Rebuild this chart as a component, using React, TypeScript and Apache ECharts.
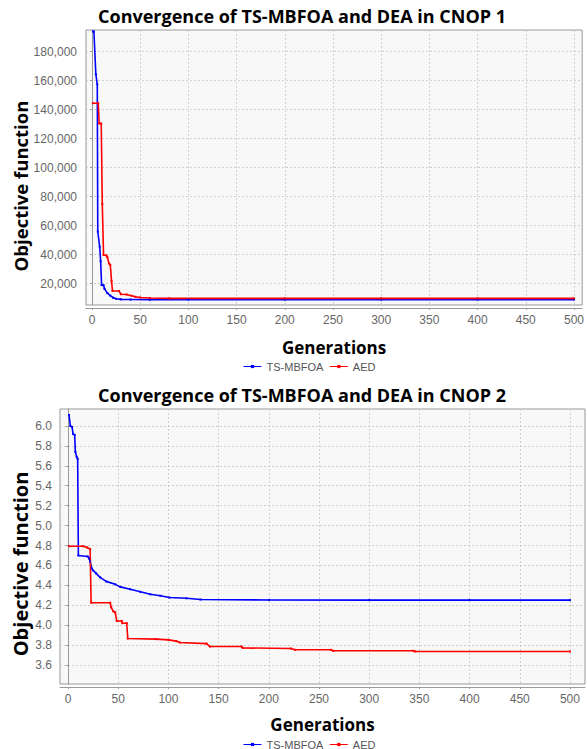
import React, { useEffect, useRef } from "react";
import * as echarts from "echarts";

// ---- Chart 1 (CNOP 1) ----
const title1 = "Convergence of TS-MBFOA and DEA in CNOP 1";
const ts1Gen = [1, 2, 4, 5.5, 6, 8, 9, 10, 12, 13, 16, 19, 22, 25, 30, 40, 60, 100, 200, 300, 400, 500];
const ts1Val = [194000, 194000, 164500, 157500, 56000, 45500, 35500, 19000, 19000, 16500, 13500, 11800, 10300, 9600, 9200, 9050, 9000, 9000, 9000, 9000, 9000, 9000];
const aed1Gen = [1, 6.5, 7.5, 9.6, 10.7, 12, 15, 16, 17.6, 19, 20.3, 21.3, 28, 30, 36, 41, 45, 50, 60, 80, 200, 300, 400, 500];
const aed1Val = [144500, 144500, 130500, 130500, 75000, 39800, 39500, 38200, 34000, 33000, 21800, 15000, 15000, 12700, 12500, 11700, 11000, 10500, 10100, 9900, 9900, 9900, 9900, 9900];
const x1Ticks = [0, 50, 100, 150, 200, 250, 300, 350, 400, 450, 500];
const y1Ticks = [20000, 40000, 60000, 80000, 100000, 120000, 140000, 160000, 180000];

// ---- Chart 2 (CNOP 2) ----
const title2 = "Convergence of TS-MBFOA and DEA in CNOP 2";
const ts2Gen = [1, 2.3, 4, 5, 6.6, 7.3, 8.6, 9.6, 10.3, 19.6, 21, 22, 23.6, 25, 28, 32, 38, 47, 52, 62, 72, 82, 92, 101, 118, 132, 200, 300, 400, 500];
const ts2Val = [6.11, 6.0, 5.99, 5.92, 5.91, 5.74, 5.69, 5.67, 4.7, 4.69, 4.67, 4.64, 4.57, 4.55, 4.52, 4.48, 4.44, 4.41, 4.385, 4.36, 4.335, 4.31, 4.296, 4.278, 4.27, 4.258, 4.253, 4.252, 4.252, 4.252];
const aed2Gen = [1, 15, 19, 22, 23, 42, 43, 45, 47, 48.5, 53.5, 54, 58.5, 59.5, 88, 100, 108, 111.5, 138, 141.4, 173, 174, 222, 226, 262, 264, 344, 346, 500];
const aed2Val = [4.793, 4.793, 4.78, 4.765, 4.226, 4.226, 4.18, 4.14, 4.13, 4.043, 4.043, 4.02, 4.02, 3.866, 3.86, 3.853, 3.84, 3.826, 3.815, 3.786, 3.786, 3.772, 3.766, 3.753, 3.753, 3.743, 3.743, 3.736, 3.736];
const x2Ticks = [0, 50, 100, 150, 200, 250, 300, 350, 400, 450, 500];
const y2Ticks = [3.6, 3.8, 4.0, 4.2, 4.4, 4.6, 4.8, 5.0, 5.2, 5.4, 5.6, 5.8, 6.0];

const seriesNames = ["TS-MBFOA", "AED"];
const axisNameX = "Generations";
const axisNameY = "Objective function";

const BLUE = "#0000ff";
const RED = "#ff0000";
const LABEL_FONT = "Liberation Sans";
const BOLD_FONT = "Open Sans";

function zip(a: number[], b: number[]) {
  return a.map((v, i) => [v, b[i]]);
}

export default function App() {
  const ref = useRef<HTMLDivElement>(null);
  useEffect(() => {
    if (!ref.current) return;
    const chart = echarts.init(ref.current, null, { renderer: "svg" });

    const xAxisBase = (ticks: number[], min: number, max: number, gridIndex: number, gap: number) => ({
      type: "value",
      gridIndex,
      min,
      max,
      offset: 3,
      name: axisNameX,
      nameLocation: "middle",
      nameGap: gap,
      nameTextStyle: { fontFamily: BOLD_FONT, fontWeight: "bold", fontSize: 17, color: "#000" },
      axisLine: { show: true, onZero: false, lineStyle: { color: "#999", width: 1 } },
      axisTick: { show: true, length: 2, customValues: ticks, lineStyle: { color: "#999" } },
      axisLabel: { customValues: ticks, color: "#666", fontSize: 12, fontFamily: LABEL_FONT, margin: 6 },
      splitLine: { show: true, lineStyle: { color: "#cfcfcf", type: [2, 2], width: 1 } },
    });

    const yAxisBase = (ticks: number[], min: number, max: number, gridIndex: number, offset: number, fmt: (v: number) => string) => ({
      type: "value",
      gridIndex,
      min,
      max,
      offset,
      axisLine: { show: true, lineStyle: { color: "#999", width: 1 } },
      axisTick: { show: true, length: 2, customValues: ticks, lineStyle: { color: "#999" } },
      axisLabel: { customValues: ticks, color: "#666", fontSize: 12, fontFamily: LABEL_FONT, margin: 5, formatter: fmt },
      splitLine: { show: true, lineStyle: { color: "#cfcfcf", type: [2, 2], width: 1 } },
    });

    const lineSeries = (name: string, color: string, data: number[][], idx: number) => ({
      type: "line",
      name,
      xAxisIndex: idx,
      yAxisIndex: idx,
      data,
      symbol: "rect",
      symbolSize: 2,
      showSymbol: true,
      lineStyle: { color, width: 1.6 },
      itemStyle: { color },
      emphasis: { disabled: true },
    });

    const gridStyle = { show: true, backgroundColor: "#f8f8f8", borderColor: "#999", borderWidth: 1 };
    const legendBase = {
      data: seriesNames,
      left: 238,
      itemWidth: 18,
      itemHeight: 4,
      itemGap: 6,
      lineStyle: { width: 1 },
      textStyle: { fontFamily: LABEL_FONT, fontSize: 11, color: "#555" },
      selectedMode: false,
    };

    chart.setOption({
      animation: false,
      title: [
        { text: title1, left: 297, top: 2, textAlign: "center", textStyle: { fontFamily: BOLD_FONT, fontWeight: "bold", fontSize: 18, color: "#000" } },
        { text: title2, left: 297, top: 381, textAlign: "center", textStyle: { fontFamily: BOLD_FONT, fontWeight: "bold", fontSize: 18, color: "#000" } },
      ],
      legend: [
        { ...legendBase, top: 356 },
        { ...legendBase, top: 734 },
      ],
      graphic: [
        {
          type: "text",
          x: 20,
          y: 186,
          rotation: Math.PI / 2,
          style: { text: axisNameY, align: "center", verticalAlign: "middle", fontFamily: BOLD_FONT, fontWeight: "bold", fontSize: 18.5, fill: "#000" },
        },
        {
          type: "text",
          x: 20,
          y: 564,
          rotation: Math.PI / 2,
          style: { text: axisNameY, align: "center", verticalAlign: "middle", fontFamily: BOLD_FONT, fontWeight: "bold", fontSize: 20, fill: "#000" },
        },
      ],
      grid: [
        { left: 86, top: 30, right: 2, height: 275, ...gridStyle },
        { left: 60, top: 409, right: 2, height: 275, ...gridStyle },
      ],
      xAxis: [
        xAxisBase(x1Ticks, -6.2, 508.5, 0, 31),
        xAxisBase(x2Ticks, -8, 515, 1, 29),
      ],
      yAxis: [
        yAxisBase(y1Ticks, 5300, 195000, 0, 4, (v: number) => v.toLocaleString("en-US")),
        yAxisBase(y2Ticks, 3.41, 6.17, 1, 3, (v: number) => v.toFixed(1)),
      ],
      series: [
        lineSeries(seriesNames[0], BLUE, zip(ts1Gen, ts1Val), 0),
        lineSeries(seriesNames[1], RED, zip(aed1Gen, aed1Val), 0),
        lineSeries(seriesNames[0], BLUE, zip(ts2Gen, ts2Val), 1),
        lineSeries(seriesNames[1], RED, zip(aed2Gen, aed2Val), 1),
      ],
    });
    return () => chart.dispose();
  }, []);
  return <div ref={ref} style={{ position: "absolute", left: 0, top: 0, width: 587, height: 749 }} />;
}
